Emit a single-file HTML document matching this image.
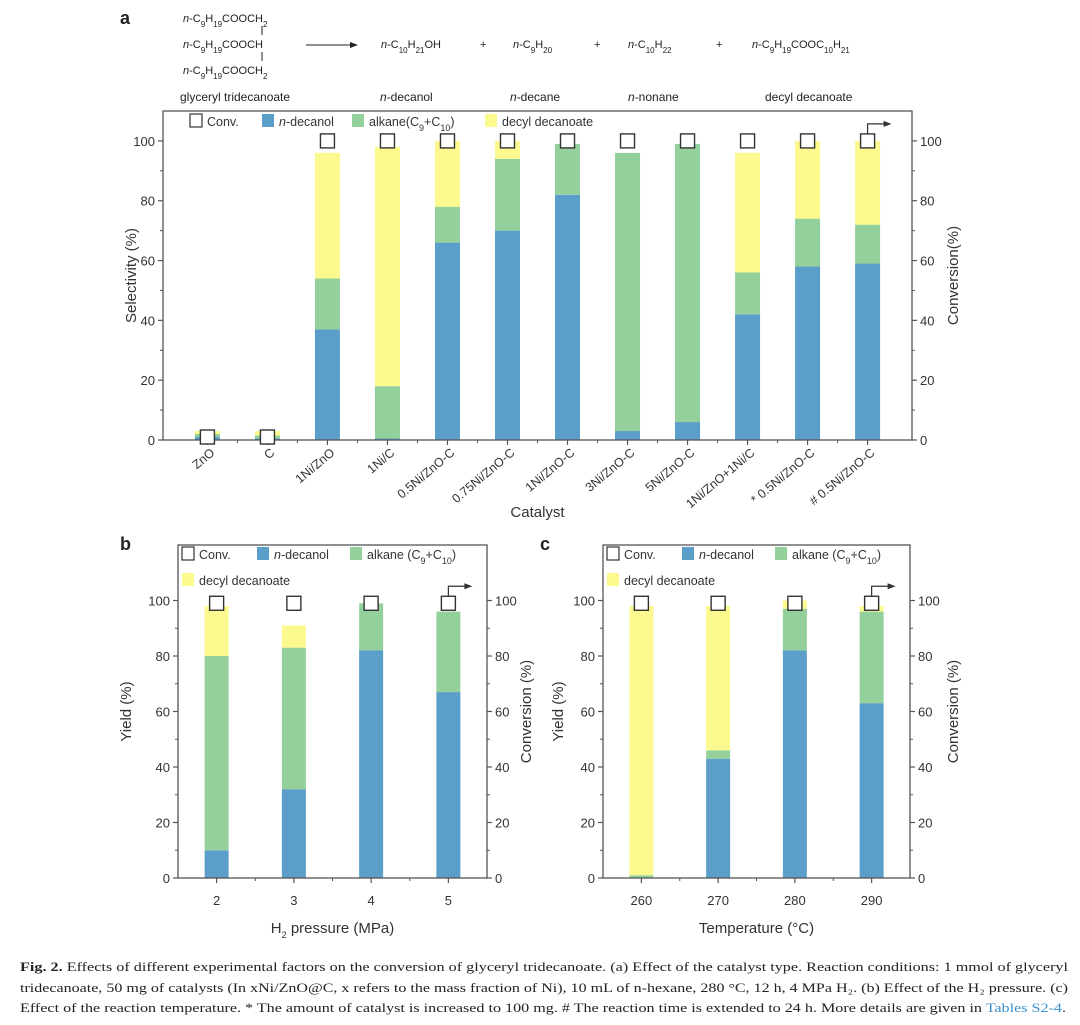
<!DOCTYPE html>
<html><head><meta charset="utf-8">
<style>
html,body{margin:0;padding:0;background:#fff;}
svg{display:block;font-family:"Liberation Sans",sans-serif;}
.cap{font-family:"Liberation Serif",serif;font-size:12.5px;fill:#222;}
.sb{font-size:8px;baseline-shift:sub;}
.lsb{font-size:9px;baseline-shift:sub;}
</style></head>
<body>
<svg id="fig" width="1080" height="1025" viewBox="0 0 1080 1025" xmlns="http://www.w3.org/2000/svg">
  <g font-size="11" fill="#222">
    <text x="120" y="24" font-size="18" font-weight="bold">a</text>
    <text x="183" y="22"><tspan font-style="italic">n</tspan>-C<tspan class="sb">9</tspan>H<tspan class="sb">19</tspan>COOCH<tspan class="sb">2</tspan></text>
    <line x1="262" y1="26" x2="262" y2="35" stroke="#222"/>
    <text x="183" y="48"><tspan font-style="italic">n</tspan>-C<tspan class="sb">9</tspan>H<tspan class="sb">19</tspan>COOCH</text>
    <line x1="262" y1="52" x2="262" y2="61" stroke="#222"/>
    <text x="183" y="74"><tspan font-style="italic">n</tspan>-C<tspan class="sb">9</tspan>H<tspan class="sb">19</tspan>COOCH<tspan class="sb">2</tspan></text>
    <line x1="306" y1="45" x2="352" y2="45" stroke="#222"/>
    <polygon points="358,45 350,42 350,48" fill="#222"/>
    <text x="381" y="48"><tspan font-style="italic">n</tspan>-C<tspan class="sb">10</tspan>H<tspan class="sb">21</tspan>OH</text>
    <text x="480" y="48">+</text>
    <text x="513" y="48"><tspan font-style="italic">n</tspan>-C<tspan class="sb">9</tspan>H<tspan class="sb">20</tspan></text>
    <text x="594" y="48">+</text>
    <text x="628" y="48"><tspan font-style="italic">n</tspan>-C<tspan class="sb">10</tspan>H<tspan class="sb">22</tspan></text>
    <text x="716" y="48">+</text>
    <text x="752" y="48"><tspan font-style="italic">n</tspan>-C<tspan class="sb">9</tspan>H<tspan class="sb">19</tspan>COOC<tspan class="sb">10</tspan>H<tspan class="sb">21</tspan></text>
    <text x="180" y="101" font-size="12">glyceryl tridecanoate</text>
    <text x="380" y="101" font-size="12"><tspan font-style="italic">n</tspan>-decanol</text>
    <text x="510" y="101" font-size="12"><tspan font-style="italic">n</tspan>-decane</text>
    <text x="628" y="101" font-size="12"><tspan font-style="italic">n</tspan>-nonane</text>
    <text x="765" y="101" font-size="12">decyl decanoate</text>
  </g>
  <g id="chartA"></g>
  <g id="chartB"></g>
  <g id="chartC"></g>
  <text x="120" y="550" font-size="18" font-weight="bold" fill="#222">b</text>
  <text x="540" y="550" font-size="18" font-weight="bold" fill="#222">c</text>
  <g>
    <text class="cap" x="20" y="971" textLength="1048" lengthAdjust="spacingAndGlyphs"><tspan font-weight="bold">Fig. 2.</tspan> Effects of different experimental factors on the conversion of glyceryl tridecanoate. (a) Effect of the catalyst type. Reaction conditions: 1 mmol of glyceryl</text>
    <text class="cap" x="20" y="992" textLength="1048" lengthAdjust="spacingAndGlyphs">tridecanoate, 50 mg of catalysts (In xNi/ZnO@C, x refers to the mass fraction of Ni), 10 mL of n-hexane, 280 °C, 12 h, 4 MPa H₂. (b) Effect of the H₂ pressure. (c)</text>
    <text class="cap" x="20" y="1012" textLength="1046" lengthAdjust="spacingAndGlyphs">Effect of the reaction temperature. * The amount of catalyst is increased to 100 mg. # The reaction time is extended to 24 h. More details are given in <tspan fill="#3a8fd0">Tables S2-4</tspan>.</text>
  </g>
</svg>
<script>
// ---- Chart A data ----
const catsA = ["ZnO","C","1Ni/ZnO","1Ni/C","0.5Ni/ZnO-C","0.75Ni/ZnO-C","1Ni/ZnO-C","3Ni/ZnO-C","5Ni/ZnO-C","1Ni/ZnO+1Ni/C","* 0.5Ni/ZnO-C","# 0.5Ni/ZnO-C"];
const decanolA = [1,0.5,37,0.5,66,70,82,3,6,42,58,59];
const alkaneA = [1,1,17,17.5,12,24,17,93,93,14,16,13];
const esterA = [1,1.5,42,80,22,6,0,0,0,40,26,28];
const convA = [1,1,100,100,100,100,100,100,100,100,100,100];
// ---- Chart B data ----
const catsB = ["2","3","4","5"];
const decanolB = [10,32,82,67];
const alkaneB = [70,51,17,29];
const esterB = [18,8,0,0];
const convB = [99,99,99,99];
// ---- Chart C data ----
const catsC = ["260","270","280","290"];
const decanolC = [0,43,82,63];
const alkaneC = [1,3,15,33];
const esterC = [97,52,3,2];
const convC = [99,99,99,99];
const yTicks = [0,20,40,60,80,100];

const NS = "http://www.w3.org/2000/svg";
const COL = {blue:"#5b9ec9", green:"#94d09c", yellow:"#fcf98f"};
function mk(parent, tag, attrs, text){
  const e = document.createElementNS(NS, tag);
  for (const k in attrs) e.setAttribute(k, attrs[k]);
  if (text !== undefined) e.textContent = text;
  parent.appendChild(e);
  return e;
}

function drawChart(g, o){
  const L=o.left, R=o.right, T=o.top, B=o.bottom;
  const n = o.cats.length;
  const y = v => B - (v / o.ymax) * (B - T);
  const x = i => L + (i + o.pad) * (R - L) / (n - 1 + 2*o.pad);
  for (let i=0;i<n;i++){
    const segs = [[o.dec[i],COL.blue,'decanol'],[o.alk[i],COL.green,'alkane'],[o.est[i],COL.yellow,'ester']];
    let base = 0;
    segs.forEach(s=>{
      if (s[0] <= 0) return;
      const r = mk(g,'rect',{x:x(i)-o.bw/2, y:y(base+s[0]), width:o.bw, height:y(base)-y(base+s[0]), fill:s[1]});
      
      
      base += s[0];
    });
  }
  const fr = mk(g,'rect',{x:L,y:T,width:R-L,height:B-T,fill:'none',stroke:'#555','stroke-width':1.3});
  
  
  yTicks.forEach(t=>{
    mk(g,'line',{x1:L-5,y1:y(t),x2:L,y2:y(t),stroke:'#555','stroke-width':1.2});
    mk(g,'line',{x1:R,y1:y(t),x2:R+5,y2:y(t),stroke:'#555','stroke-width':1.2});
    const lt = mk(g,'text',{x:L-8,y:y(t)+5,'text-anchor':'end','font-size':13,fill:'#333'},t);
    
    
    const rt = mk(g,'text',{x:R+8,y:y(t)+5,'font-size':13,fill:'#333'},t);
    
    
  });
  for (let t=10;t<100;t+=20){
    mk(g,'line',{x1:L-3,y1:y(t),x2:L,y2:y(t),stroke:'#555'});
    mk(g,'line',{x1:R,y1:y(t),x2:R+3,y2:y(t),stroke:'#555'});
  }
  for (let i=0;i<n;i++){
    mk(g,'line',{x1:x(i),y1:B,x2:x(i),y2:B+5,stroke:'#555','stroke-width':1.2});
    if (i<n-1) mk(g,'line',{x1:(x(i)+x(i+1))/2,y1:B,x2:(x(i)+x(i+1))/2,y2:B+3,stroke:'#555'});
    let lab;
    if (o.rot){
      lab = mk(g,'text',{x:x(i)+8,y:B+14,'text-anchor':'end','font-size':12.5,fill:'#333',transform:`rotate(-40 ${x(i)+8} ${B+14})`},o.cats[i]);
    } else {
      lab = mk(g,'text',{x:x(i),y:B+27,'text-anchor':'middle','font-size':13,fill:'#333'},o.cats[i]);
    }
    
    
  }
  for (let i=0;i<n;i++){
    const sq = mk(g,'rect',{x:x(i)-7,y:y(o.conv[i])-7,width:14,height:14,fill:'#fff',stroke:'#333','stroke-width':1.4});
    
    
  }
  const lx = x(n-1), ly = y(o.conv[n-1]) - 7;
  const ar = mk(g,'path',{d:`M${lx} ${ly} V${ly-10} H${lx+17}`,fill:'none',stroke:'#333','stroke-width':1.2});
  
  
  mk(g,'polygon',{points:`${lx+24},${ly-10} ${lx+16},${ly-13} ${lx+16},${ly-7}`,fill:'#333'});
  const yt = mk(g,'text',{x:o.ylx,y:(T+B)/2,'text-anchor':'middle','font-size':15,fill:'#333',transform:`rotate(-90 ${o.ylx} ${(T+B)/2})`},o.ylab);
  
  
  const y2 = mk(g,'text',{x:o.y2x,y:(T+B)/2,'text-anchor':'middle','font-size':15,fill:'#333',transform:`rotate(-90 ${o.y2x} ${(T+B)/2})`},o.y2lab);
  
  
  const xt = mk(g,'text',{x:(L+R)/2,y:o.xty,'text-anchor':'middle','font-size':15,fill:'#333'});
  xt.innerHTML = o.xlab;
  
  
  const lg = mk(g,'g',{});
  
  
  o.legend.forEach(e=>{
    const sw = mk(lg,'rect',{x:e.x,y:e.y-10,width:12,height:13,fill:e.c,stroke:e.s||'none','stroke-width':1.2});
    
    
    const tx = mk(lg,'text',{x:e.x+17,y:e.y+2,'font-size':12.5,fill:'#333'});
    tx.innerHTML = e.t;
    
    
  });
}

const sub = s => `<tspan class="lsb">${s}</tspan>`;
drawChart(document.getElementById('chartA'),{
  left:163,right:912,top:111,bottom:440,ymax:110,pad:0.74,bw:25,rot:true,
  cats:catsA,dec:decanolA,alk:alkaneA,est:esterA,conv:convA,
  ylab:'Selectivity (%)',y2lab:'Conversion(%)',xlab:'Catalyst',ylx:136,y2x:958,xty:517,
  legend:[
    {x:190,y:124,c:'#fff',s:'#333',t:'Conv.'},
    {x:262,y:124,c:COL.blue,t:'<tspan font-style="italic">n</tspan>-decanol'},
    {x:352,y:124,c:COL.green,t:'alkane(C'+sub('9')+'+C'+sub('10')+')'},
    {x:485,y:124,c:COL.yellow,t:'decyl decanoate'}
  ]
});
drawChart(document.getElementById('chartB'),{
  left:178,right:487,top:545,bottom:878,ymax:120,pad:0.5,bw:24,rot:false,
  cats:catsB,dec:decanolB,alk:alkaneB,est:esterB,conv:convB,
  ylab:'Yield (%)',y2lab:'Conversion (%)',xlab:'H'+sub('2')+' pressure (MPa)',ylx:131,y2x:531,xty:933,
  legend:[
    {x:182,y:557,c:'#fff',s:'#333',t:'Conv.'},
    {x:257,y:557,c:COL.blue,t:'<tspan font-style="italic">n</tspan>-decanol'},
    {x:350,y:557,c:COL.green,t:'alkane (C'+sub('9')+'+C'+sub('10')+')'},
    {x:182,y:583,c:COL.yellow,t:'decyl decanoate'}
  ]
});
drawChart(document.getElementById('chartC'),{
  left:603,right:910,top:545,bottom:878,ymax:120,pad:0.5,bw:24,rot:false,
  cats:catsC,dec:decanolC,alk:alkaneC,est:esterC,conv:convC,
  ylab:'Yield (%)',y2lab:'Conversion (%)',xlab:'Temperature (°C)',ylx:563,y2x:958,xty:933,
  legend:[
    {x:607,y:557,c:'#fff',s:'#333',t:'Conv.'},
    {x:682,y:557,c:COL.blue,t:'<tspan font-style="italic">n</tspan>-decanol'},
    {x:775,y:557,c:COL.green,t:'alkane (C'+sub('9')+'+C'+sub('10')+')'},
    {x:607,y:583,c:COL.yellow,t:'decyl decanoate'}
  ]
});
</script>
</body></html>
